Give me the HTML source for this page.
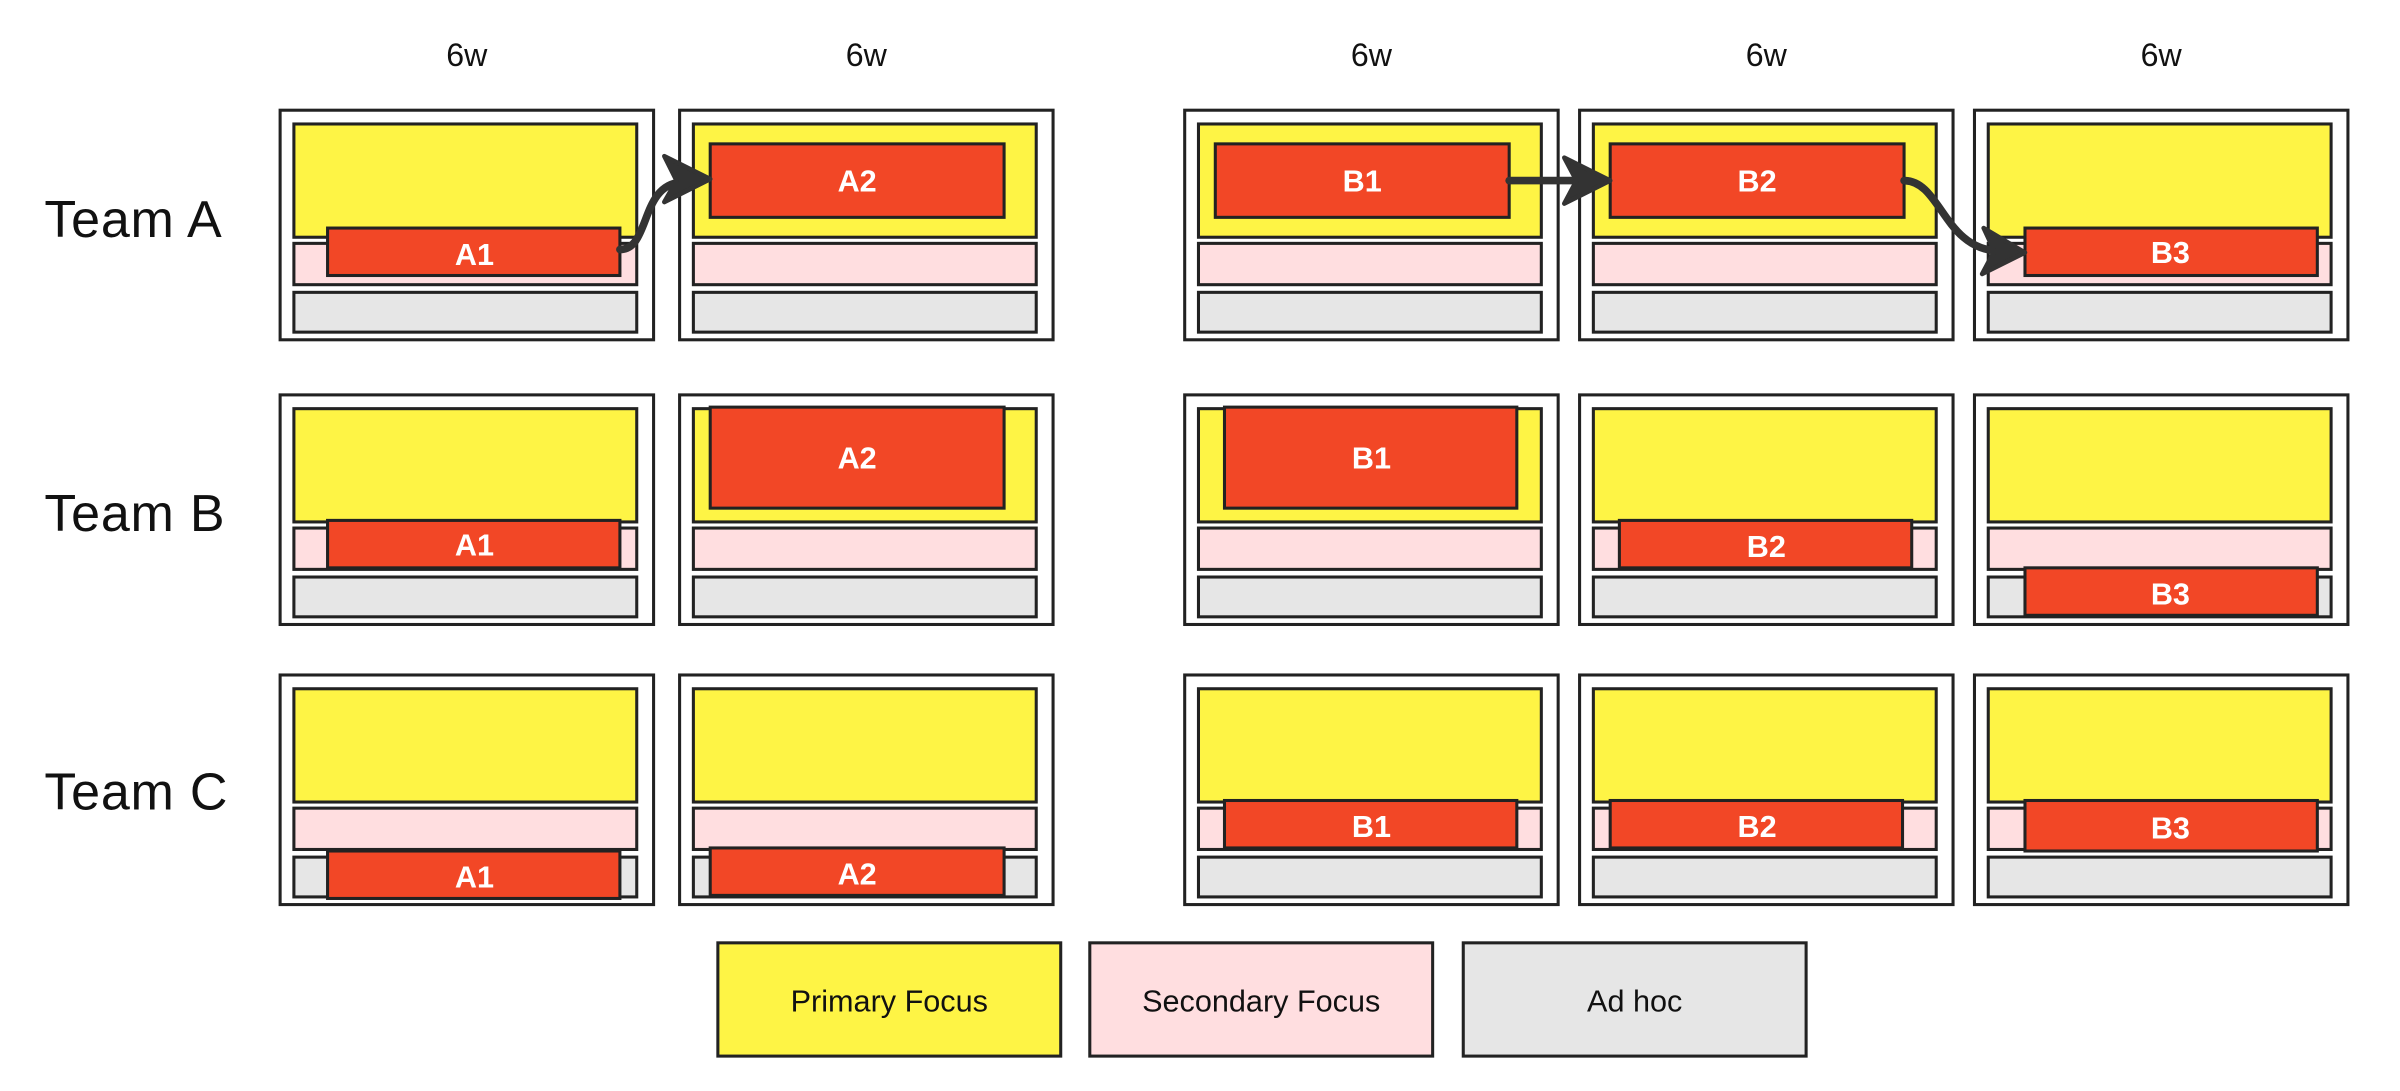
<!DOCTYPE html>
<html><head><meta charset="utf-8"><style>
html,body{margin:0;padding:0;background:#fff;}
svg{display:block;}
text{font-family:"Liberation Sans","DejaVu Sans",sans-serif;}
</style></head><body>
<svg width="2400" height="1091" viewBox="0 0 1568 712.8" xmlns="http://www.w3.org/2000/svg">
<rect x="0" y="0" width="1568" height="712.8" fill="#fff"/>
<g font-size="21" fill="#111" text-anchor="middle">
<text x="305" y="43">6w</text>
<text x="566" y="43">6w</text>
<text x="896" y="43">6w</text>
<text x="1154" y="43">6w</text>
<text x="1412" y="43">6w</text>
</g>
<g font-size="34" fill="#111" letter-spacing="0.5">
<text x="29" y="155">Team A</text>
<text x="29" y="347">Team B</text>
<text x="29" y="529">Team C</text>
</g>
<defs>
<g id="cell">
<rect x="0" y="0" width="244" height="150" fill="#fff" stroke="#222" stroke-width="2"/>
<rect x="9" y="9" width="224" height="74" fill="#fef445" stroke="#222" stroke-width="2"/>
<rect x="9" y="87" width="224" height="27" fill="#ffdee0" stroke="#222" stroke-width="2"/>
<rect x="9" y="119" width="224" height="26" fill="#e6e6e6" stroke="#222" stroke-width="2"/>
</g>
</defs>
<g>
<use href="#cell" x="183" y="72"/><use href="#cell" x="444" y="72"/><use href="#cell" x="774" y="72"/><use href="#cell" x="1032" y="72"/><use href="#cell" x="1290" y="72"/>
<use href="#cell" x="183" y="258"/><use href="#cell" x="444" y="258"/><use href="#cell" x="774" y="258"/><use href="#cell" x="1032" y="258"/><use href="#cell" x="1290" y="258"/>
<use href="#cell" x="183" y="441"/><use href="#cell" x="444" y="441"/><use href="#cell" x="774" y="441"/><use href="#cell" x="1032" y="441"/><use href="#cell" x="1290" y="441"/>
</g>
<g fill="#f24726" stroke="#222" stroke-width="2">
<rect x="214" y="149" width="191" height="31"/>
<rect x="464" y="94" width="192" height="48"/>
<rect x="794" y="94" width="192" height="48"/>
<rect x="1052" y="94" width="192" height="48"/>
<rect x="1323" y="149" width="191" height="31"/>
<rect x="214" y="340" width="191" height="31"/>
<rect x="464" y="266" width="192" height="66"/>
<rect x="800" y="266" width="191" height="66"/>
<rect x="1058" y="340" width="191" height="31"/>
<rect x="1323" y="371" width="191" height="31"/>
<rect x="214" y="556" width="191" height="31"/>
<rect x="464" y="554" width="192" height="31"/>
<rect x="800" y="523" width="191" height="31"/>
<rect x="1052" y="523" width="191" height="31"/>
<rect x="1323" y="523" width="191" height="33"/>
</g>
<g font-size="20" font-weight="bold" fill="#fff" text-anchor="middle">
<text x="310" y="173">A1</text>
<text x="560" y="125">A2</text>
<text x="890" y="125">B1</text>
<text x="1148" y="125">B2</text>
<text x="1418" y="172">B3</text>
<text x="310" y="363">A1</text>
<text x="560" y="306">A2</text>
<text x="896" y="306">B1</text>
<text x="1154" y="364">B2</text>
<text x="1418" y="395">B3</text>
<text x="310" y="580">A1</text>
<text x="560" y="578">A2</text>
<text x="896" y="547">B1</text>
<text x="1148" y="547">B2</text>
<text x="1418" y="548">B3</text>
</g>
<g stroke="#333" stroke-width="5" fill="none" stroke-linecap="round">
<path d="M405,163 C425,163 418,121 445,119"/>
<path d="M986,118 L1036,118"/>
<path d="M1244,118 C1268,118 1270,163 1306,164"/>
</g>
<g fill="#333" stroke="#333" stroke-width="3" stroke-linejoin="round">
<polygon points="464,117 434,102 442,118 434,132"/>
<polygon points="1052,118 1022,103 1030,118 1022,133"/>
<polygon points="1323,165 1296,149 1303,164 1295,179"/>
</g>
<g stroke="#222" stroke-width="2">
<rect x="469" y="616" width="224" height="74" fill="#fef445"/>
<rect x="712" y="616" width="224" height="74" fill="#ffdee0"/>
<rect x="956" y="616" width="224" height="74" fill="#e6e6e6"/>
</g>
<g font-size="20" fill="#111" text-anchor="middle">
<text x="581" y="661">Primary Focus</text>
<text x="824" y="661">Secondary Focus</text>
<text x="1068" y="661">Ad hoc</text>
</g>
</svg>
</body></html>
